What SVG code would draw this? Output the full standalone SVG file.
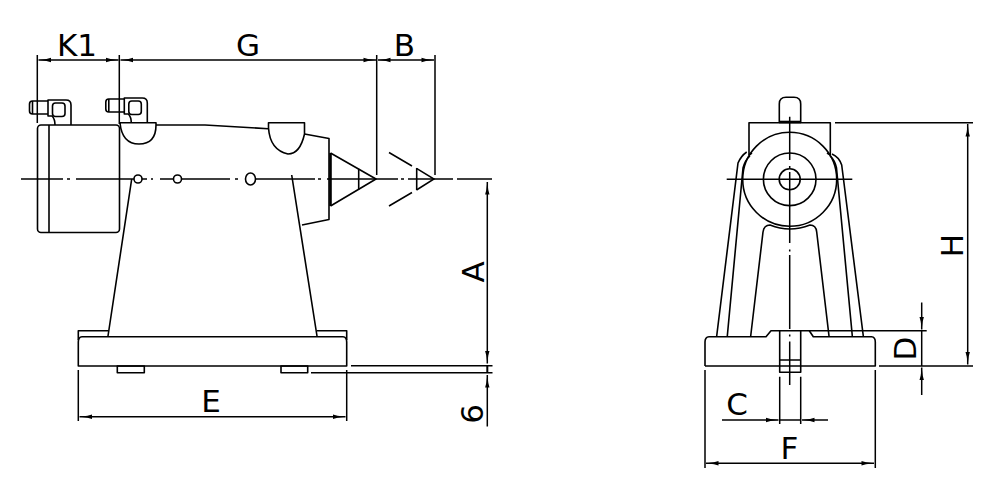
<svg xmlns="http://www.w3.org/2000/svg" width="1000" height="500" viewBox="0 0 1000 500">
<style>
.o{fill:none;stroke:#000;stroke-width:1.6;stroke-linejoin:round}
.c{fill:none;stroke:#000;stroke-width:1.5}
.d{fill:none;stroke:#000;stroke-width:1.5}
.t{font-family:"DejaVu Sans",Verdana,sans-serif;font-size:31px;fill:#000;text-anchor:middle}
</style>
<defs>
<marker id="a" markerUnits="userSpaceOnUse" markerWidth="14" markerHeight="8" refX="14" refY="4" orient="auto-start-reverse" viewBox="0 0 14 8">
<path d="M14 4L6 3L1.500 1.800V6.200L6 5Z" fill="#000"/>
</marker>
<g id="clamp">
<path class="o" d="M48 101H32.5Q29.5 101 29.5 104V111Q29.5 114 32.5 114H48"/>
<path class="o" d="M32.5 101V114"/>
<path class="o" d="M55 125Q55 119 52 116H48V100H66Q71 100 71 105V125"/>
<rect class="o" x="52.5" y="103" width="12.5" height="13.500" rx="3"/>
</g>
</defs>
<rect width="1000" height="500" fill="#fff"/>

<g id="side-view">
<g id="tailstock-body">
<rect class="o" x="37.500" y="125" width="82" height="107.500" rx="3.500"/>
<path class="o" d="M49 125V232.500"/>
<path class="o" d="M120 122.700H156V125M120 122.700Q122 144 139 144Q156 144 156 125"/>
<path class="o" d="M156 125H205L268 128.700"/>
<path class="o" d="M268.500 122.700H304.500V134Q300 154 288 154Q270 150 268.500 128Z"/>
<path class="o" d="M304.500 134L329 138.500V219.500L302 225"/>
<circle class="o" cx="138" cy="179" r="4"/>
<circle class="o" cx="177.500" cy="179" r="4"/>
<ellipse class="o" cx="250.500" cy="179" rx="5" ry="6"/>
<path class="o" d="M131.700 179L108 336M291.700 175L317 336"/>
</g>
<g id="live-center">
<path class="o" d="M330.500 153L376 179L330.500 206"/>
<path d="M330.500 153V206" fill="none" stroke="#000" stroke-width="2.600"/>
<path class="o" d="M358.700 168.800V189.500"/>
</g>
<g id="center-phantom">
<path class="c" d="M389 152.500L412 166M416.500 168.300L434 179L416.500 190M412 192.500L389 206"/>
<path class="o" d="M416.700 168V190"/>
</g>
<g id="clamp-rear"><use href="#clamp"/></g>
<g id="clamp-front"><use href="#clamp" transform="translate(76.300 -2)"/></g>
<g id="base-side">
<path class="o" d="M78.300 342Q78.300 337 82 336.700H343Q346.700 337 346.700 342V366H78.300Z"/>
<path class="o" d="M78.300 340V330.700H108M317 330.700H346.700V340"/>
<rect class="o" x="117.300" y="366" width="27" height="6.700"/>
<rect class="o" x="281" y="366" width="26.700" height="6.700"/>
</g>
<path class="c" d="M21 179H63M67 179H70M76 179H134M142 179H147M151 179H153M160 179H173M182 179H230M235 179H238M256 179H315M318 179H321M327 179H398M401 179H404M408 179H453M457 179H492"/>
</g>

<g id="front-view">
<g id="knob"><path class="o" d="M779.300 122V104Q779.300 97.300 786 97.300H794Q800.700 97.300 800.700 104V122"/></g>
<g id="head">
<path class="o" d="M749 155V122.700H830.300V155"/>
<path d="M779 122H801" stroke="#000" stroke-width="2.600" fill="none"/>
<path class="o" d="M749 155L752 153M830.300 155L827 153"/>
<circle class="o" cx="789.700" cy="179.300" r="47"/>
<circle class="o" cx="789.700" cy="179.300" r="26.300"/>
<circle class="o" cx="789.700" cy="179.300" r="10.500"/>
</g>
<g id="column">
<path class="o" d="M716.700 336L738 163Q741 156 746.700 152M727.300 336L743 168Q745 160 750 156"/>
<path class="o" d="M863.300 336L841.700 165Q839 157 832 154M852.300 336L836.500 168Q835 160 830 156"/>
<path class="o" d="M750.700 336L763 232Q764 225 770 225Q789.700 233 810 225Q816 225 816.700 232L829 336"/>
</g>
<g id="base-front">
<path class="o" d="M705 366V342Q705 337 709 336.700H766L771 330.700H926.700"/>
<path class="o" d="M809.300 330.700L813.300 336.700H871.500Q875.300 337 875.300 342V366H705"/>
<path class="o" d="M779.700 330.700V372.300H800.700V330.700M779.700 360H800.700"/>
</g>
<path class="c" d="M726.700 179.300H852.300M789.700 116.700V160M789.700 166V168M789.700 172V243M789.700 249.500V251.500M789.700 255V329M789.700 334.500V336.500M789.700 341.500V385"/>
</g>

<g id="connectors">
<path class="d" d="M37.300 55V123M119.300 55V124M376.700 55V175M435 55V175"/>
<path class="d" d="M38.500 60H118.500" marker-start="url(#a)" marker-end="url(#a)"/>
<path class="d" d="M120.500 60H376" marker-start="url(#a)" marker-end="url(#a)"/>
<path class="d" d="M378 60H434" marker-start="url(#a)" marker-end="url(#a)"/>
<path class="d" d="M487.300 182V363.500" marker-start="url(#a)" marker-end="url(#a)"/>
<path class="d" d="M487.300 375V426.500" marker-start="url(#a)"/>
<path d="M487.300 366V372.700" stroke="#000" stroke-width="2" fill="none"/>
<path class="d" d="M351 365.800H492.500M311 372.700H492.500"/>
<path class="d" d="M78.300 370V421M346.700 370V421"/>
<path class="d" d="M79.500 416.700H345.500" marker-start="url(#a)" marker-end="url(#a)"/>
<path class="d" d="M835 122.700H973M879 366H973"/>
<path class="d" d="M967.700 124V364.500" marker-start="url(#a)" marker-end="url(#a)"/>
<path class="d" d="M921.700 329.500V302.500" marker-start="url(#a)"/>
<path class="d" d="M921.700 330.700V366"/>
<path class="d" d="M921.700 367.500V395" marker-start="url(#a)"/>
<path class="d" d="M779.700 376.700V424M800.700 376.700V424M705 370V468M875.300 370V468"/>
<path class="d" d="M778.500 420H722" marker-start="url(#a)"/>
<path class="d" d="M802 420H828" marker-start="url(#a)"/>
<path class="d" d="M779 420H801"/>
<path class="d" d="M706 463.300H874" marker-start="url(#a)" marker-end="url(#a)"/>
</g>

<g id="labels">
<text class="t" x="77" y="56">K1</text>
<text class="t" x="248" y="56">G</text>
<text class="t" x="404.500" y="56">B</text>
<text class="t" x="211" y="412">E</text>
<text class="t" x="737" y="415">C</text>
<text class="t" x="789.500" y="459">F</text>
<text class="t" transform="translate(484 272) rotate(-90)">A</text>
<text class="t" transform="translate(483 414) rotate(-90)">6</text>
<text class="t" transform="translate(963 245.500) rotate(-90)">H</text>
<text class="t" transform="translate(916 348.500) rotate(-90)">D</text>
</g>
</svg>
